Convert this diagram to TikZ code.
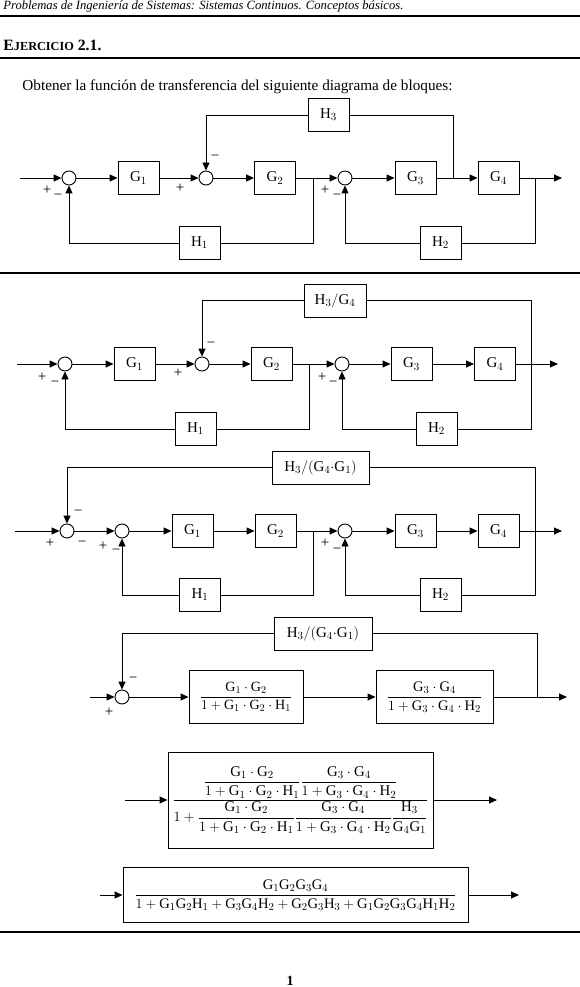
\documentclass[tikz,border=0pt]{standalone}
\usepackage{amsmath}
\usepackage{fontspec}
\setmainfont{Liberation Serif}
\usetikzlibrary{arrows.meta}
\newcommand{\myG}[1]{\mathrm{G}_{#1}}
\newcommand{\myH}[1]{\mathrm{H}_{#1}}
\begin{document}
\begin{tikzpicture}[x=1pt,y=-1pt,
  line width=0.9pt,
  every node/.style={font=\fontsize{15}{18}\selectfont},
  blk/.style={draw, rectangle, inner sep=0pt, minimum width=41pt, minimum height=33pt},
  sumc/.style={draw, circle, inner sep=0pt, minimum size=14pt},
  arr/.style={-{Triangle[length=8pt,width=7pt]}},
  sg/.style={inner sep=0pt, font=\fontsize{15}{17}\selectfont},
  sepl/.style={line width=2.8pt},
  txt/.style={anchor=base west, inner sep=0pt},
]
\useasboundingbox (0,0) rectangle (580,987);

% ---------- header ----------
\node[txt] (hdr) at (3,10) {\resizebox{400pt}{!}{\itshape Problemas de Ingeniería de Sistemas: Sistemas Continuos. Conceptos básicos.}};
\draw[sepl] (0,16) -- (580,16);
\node[txt] (ej) at (3,51) {\resizebox{98pt}{!}{\fontsize{10}{12}\selectfont\bfseries E{\fontsize{7.8}{9}\selectfont JERCICIO} 2.1.}};
\draw[sepl] (0,58) -- (580,58);
\node[txt] (ob) at (22,91) {\resizebox{430pt}{!}{Obtener la función de transferencia del siguiente diagrama de bloques:}};

% ---------- diagram 1 ----------
\coordinate (in1) at (20,178);
\node[sumc] (s11) at (69,178) {};
\node[blk] (g11) at (138.5,178) {$\myG1$};
\node[sumc] (s12) at (206,178) {};
\node[blk] (g12) at (275,178) {$\myG2$};
\coordinate (b12) at (313,178);
\node[sumc] (s13) at (345,178) {};
\node[blk] (g13) at (415.5,178) {$\myG3$};
\coordinate (b13) at (453,178);
\node[blk] (g14) at (498.5,178) {$\myG4$};
\coordinate (b14) at (535,178);
\coordinate (o1) at (562,178);
\node[blk] (h13) at (328.5,115) {$\myH3$};
\node[blk] (h11) at (199.5,243) {$\myH1$};
\node[blk] (h12) at (440.5,243) {$\myH2$};
\draw[arr] (in1) -- (s11);
\draw[arr] (s11) -- (g11);
\draw[arr] (g11) -- (s12);
\draw[arr] (s12) -- (g12);
\draw[arr] (g12) -- (s13);
\draw[arr] (s13) -- (g13);
\draw[arr] (g13) -- (g14);
\draw[arr] (g14) -- (o1);
\draw (b12) |- (h11);
\draw[arr] (h11) -| (s11);
\draw (b14) |- (h12);
\draw[arr] (h12) -| (s13);
\draw (b13) |- (h13);
\draw[arr] (h13) -| (s12);
\node[sg] (p11) at (47,190) {+};
\node[sg] (m11) at (58,197) {−};
\node[sg] (p12) at (180,188) {+};
\node[sg] (m12) at (215,158) {−};
\node[sg] (p13) at (325,190) {+};
\node[sg] (m13) at (337,197) {−};
\draw[sepl] (0,273) -- (580,273);

% ---------- diagram 2 ----------
\coordinate (in2) at (17,364);
\node[sumc] (s21) at (65,364) {};
\node[blk] (g21) at (134.5,364) {$\myG1$};
\node[sumc] (s22) at (202,364) {};
\node[blk] (g22) at (271.5,364) {$\myG2$};
\coordinate (b22) at (309,364);
\node[sumc] (s23) at (342,364) {};
\node[blk] (g23) at (411.5,364) {$\myG3$};
\node[blk] (g24) at (495,364) {$\myG4$};
\coordinate (b24) at (531,364);
\coordinate (o2) at (558,364);
\node[blk, minimum width=62pt] (h23) at (335,300.5) {$\myH3/\myG4$};
\node[blk] (h21) at (195.5,429) {$\myH1$};
\node[blk] (h22) at (436.5,429) {$\myH2$};
\draw[arr] (in2) -- (s21);
\draw[arr] (s21) -- (g21);
\draw[arr] (g21) -- (s22);
\draw[arr] (s22) -- (g22);
\draw[arr] (g22) -- (s23);
\draw[arr] (s23) -- (g23);
\draw[arr] (g23) -- (g24);
\draw[arr] (g24) -- (o2);
\draw (b22) |- (h21);
\draw[arr] (h21) -| (s21);
\draw (b24) |- (h22);
\draw[arr] (h22) -| (s23);
\draw (b24) |- (h23);
\draw[arr] (h23) -| (s22);
\node[sg] (p21) at (42,377) {+};
\node[sg] (m21) at (55,384) {−};
\node[sg] (p22) at (178,373) {+};
\node[sg] (m22) at (211,345) {−};
\node[sg] (p23) at (322,377) {+};
\node[sg] (m23) at (333,384) {−};

% ---------- diagram 3 ----------
\coordinate (in3) at (15,531);
\node[sumc] (s30) at (67,531) {};
\node[sumc] (s31) at (122,531) {};
\node[blk] (g31) at (192.5,531) {$\myG1$};
\node[blk] (g32) at (275.5,531) {$\myG2$};
\coordinate (b32) at (313,531);
\node[sumc] (s32) at (345,531) {};
\node[blk] (g33) at (415.5,531) {$\myG3$};
\node[blk] (g34) at (498.5,531) {$\myG4$};
\coordinate (b34) at (535,531);
\coordinate (o3) at (562,531);
\node[blk, minimum width=97pt] (h33) at (320.5,467.5) {$\myH3/(\myG4{\cdot}\myG1)$};
\node[blk] (h31) at (200,595) {$\myH1$};
\node[blk] (h32) at (440.5,595) {$\myH2$};
\draw[arr] (in3) -- (s30);
\draw[arr] (s30) -- (s31);
\draw[arr] (s31) -- (g31);
\draw[arr] (g31) -- (g32);
\draw[arr] (g32) -- (s32);
\draw[arr] (s32) -- (g33);
\draw[arr] (g33) -- (g34);
\draw[arr] (g34) -- (o3);
\draw (b32) |- (h31);
\draw[arr] (h31) -| (s31);
\draw (b34) |- (h32);
\draw[arr] (h32) -| (s32);
\draw (b34) |- (h33);
\draw[arr] (h33) -| (s30);
\node[sg] (p30) at (50,543) {+};
\node[sg] (m30) at (78,513) {−};
\node[sg] (m31) at (82,544) {−};
\node[sg] (p31) at (103,546) {+};
\node[sg] (m32) at (116,552) {−};
\node[sg] (p33) at (325,543) {+};
\node[sg] (m33) at (337,551) {−};

% ---------- diagram 4 ----------
\coordinate (in4) at (90,697);
\node[sumc] (s4) at (122,697) {};
\node[blk, minimum width=114pt, minimum height=53pt] (f41) at (246,697)
  {\resizebox{92pt}{!}{$\dfrac{\myG1\cdot\myG2}{1+\myG1\cdot\myG2\cdot\myH1}$}};
\node[blk, minimum width=117pt, minimum height=53pt] (f42) at (434.5,697)
  {\resizebox{95pt}{!}{$\dfrac{\myG3\cdot\myG4}{1+\myG3\cdot\myG4\cdot\myH2}$}};
\coordinate (b4) at (537,697);
\coordinate (o4) at (567,697);
\node[blk, minimum width=98pt] (h4) at (323,633.5) {$\myH3/(\myG4{\cdot}\myG1)$};
\draw[arr] (in4) -- (s4);
\draw[arr] (s4) -- (f41);
\draw[arr] (f41) -- (f42);
\draw[arr] (f42) -- (o4);
\draw (b4) |- (h4);
\draw[arr] (h4) -| (s4);
\node[sg] (p4) at (109,712) {+};
\node[sg] (m4) at (133,680) {−};

% ---------- diagram 5 ----------
\coordinate (in5) at (125,800);
\node[blk, minimum width=265pt, minimum height=96pt] (f5) at (300.5,800)
  {\resizebox{256pt}{!}{$\dfrac{\dfrac{\myG1\cdot\myG2}{1+\myG1\cdot\myG2\cdot\myH1}\dfrac{\myG3\cdot\myG4}{1+\myG3\cdot\myG4\cdot\myH2}}{1+\dfrac{\myG1\cdot\myG2}{1+\myG1\cdot\myG2\cdot\myH1}\dfrac{\myG3\cdot\myG4}{1+\myG3\cdot\myG4\cdot\myH2}\dfrac{\myH3}{\myG4\myG1}}$}};
\coordinate (o5) at (497,800);
\draw[arr] (in5) -- (f5);
\draw[arr] (f5) -- (o5);

% ---------- diagram 6 ----------
\coordinate (in6) at (100,895);
\node[blk, minimum width=345pt, minimum height=55pt] (f6) at (295.5,895)
  {\resizebox{322pt}{!}{$\dfrac{\myG1\myG2\myG3\myG4}{1+\myG1\myG2\myH1+\myG3\myG4\myH2+\myG2\myG3\myH3+\myG1\myG2\myG3\myG4\myH1\myH2}$}};
\coordinate (o6) at (519,895);
\draw[arr] (in6) -- (f6);
\draw[arr] (f6) -- (o6);
\draw[sepl] (0,932) -- (580,932);

\node[anchor=base, inner sep=0pt, font=\bfseries\fontsize{14}{16}\selectfont] (pg) at (290,985) {1};
\end{tikzpicture}
\end{document}
